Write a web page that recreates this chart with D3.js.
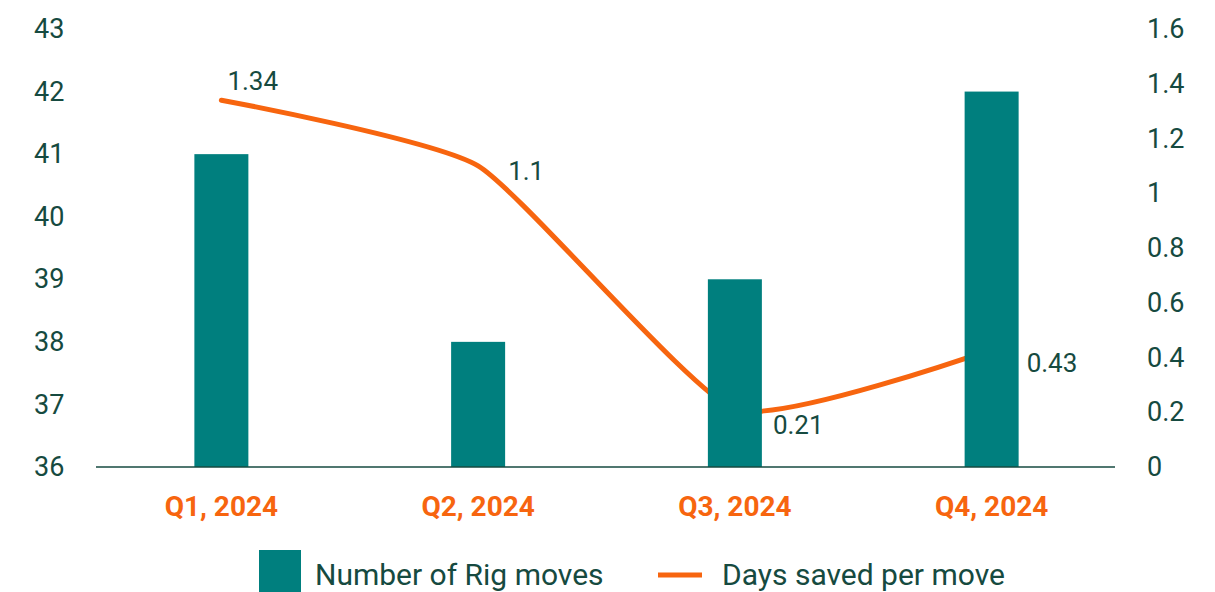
<html>
<head>
<script src="https://d3js.org/d3.v7.min.js"></script>
<style>
  body { margin: 0; background: #fff; }
  svg { display: block; }
  text { font-family: Roboto, "Noto Sans", sans-serif; fill: #164a40; }
</style>
</head>
<body>
<svg id="chart" width="1215" height="592"></svg>
<script>
// chart data
var quarters = ["Q1, 2024", "Q2, 2024", "Q3, 2024", "Q4, 2024"];
var rigMoves = [41, 38, 39, 42];
var daysSaved = [1.34, 1.1, 0.21, 0.43];
var leftTicks = [36, 37, 38, 39, 40, 41, 42, 43];
var rightTicks = [0, 0.2, 0.4, 0.6, 0.8, 1, 1.2, 1.4, 1.6];

var teal = "#007f7e", orange = "#f7650f", ink = "#164a40";

var svg = d3.select("#chart");

var x = d3.scaleBand().domain(quarters).range([93, 1120]).padding(0);
var yL = d3.scaleLinear().domain([36, 43]).range([467, 29]);
var yR = d3.scaleLinear().domain([0, 1.6]).range([467, 29]);
var cx = function(q){ return x(q) + x.bandwidth() / 2; };
var barW = 54;

// left axis labels
svg.append("g").selectAll("text")
  .data(leftTicks).enter().append("text")
    .attr("x", 34)
    .attr("y", function(d){ return yL(d); })
    .attr("dy", "0.34em")
    .style("font-size", "27px")
    .text(function(d){ return d; });

// right axis labels
svg.append("g").selectAll("text")
  .data(rightTicks).enter().append("text")
    .attr("x", 1147)
    .attr("y", function(d){ return yR(d); })
    .attr("dy", "0.34em")
    .style("font-size", "27px")
    .text(function(d){ return d; });

// line (behind bars)
var pts = quarters.map(function(q, i){ return [cx(q), yR(daysSaved[i])]; });
svg.append("path")
  .attr("d", d3.line().curve(d3.curveCardinal.tension(0.5))(pts))
  .attr("fill", "none")
  .attr("stroke", orange)
  .attr("stroke-width", 5)
  .attr("stroke-linecap", "round");

// bars
svg.append("g").selectAll("rect")
  .data(quarters).enter().append("rect")
    .attr("x", function(q){ return cx(q) - barW / 2; })
    .attr("width", barW)
    .attr("y", function(q, i){ return yL(rigMoves[i]); })
    .attr("height", function(q, i){ return yL(36) - yL(rigMoves[i]); })
    .attr("fill", teal);

// baseline
svg.append("line")
  .attr("x1", 96).attr("x2", 1115)
  .attr("y1", 467).attr("y2", 467)
  .attr("stroke", ink).attr("stroke-width", 1.5);

// value labels
var labelDx = [6, 30, 38, 35], labelDy = [-10, 14, 24, 23];
svg.append("g").selectAll("text")
  .data(daysSaved).enter().append("text")
    .attr("x", function(d, i){ return pts[i][0] + labelDx[i]; })
    .attr("y", function(d, i){ return pts[i][1] + labelDy[i]; })
    .style("font-size", "26px")
    .text(function(d){ return d; });

// category labels
svg.append("g").selectAll("text")
  .data(quarters).enter().append("text")
    .attr("x", function(q){ return cx(q); })
    .attr("y", 516)
    .attr("text-anchor", "middle")
    .style("font-size", "28px")
    .style("font-weight", "bold")
    .style("fill", orange)
    .text(function(q){ return q; });

// legend
var lg = svg.append("g");
lg.append("rect").attr("x", 259).attr("y", 550).attr("width", 42).attr("height", 42).attr("fill", teal);
lg.append("text").attr("x", 315).attr("y", 585).style("font-size", "30px").text("Number of Rig moves");
lg.append("line").attr("x1", 658).attr("x2", 702).attr("y1", 575).attr("y2", 575)
  .attr("stroke", orange).attr("stroke-width", 5);
lg.append("text").attr("x", 722).attr("y", 585).style("font-size", "30px").text("Days saved per move");
</script>
</body>
</html>
